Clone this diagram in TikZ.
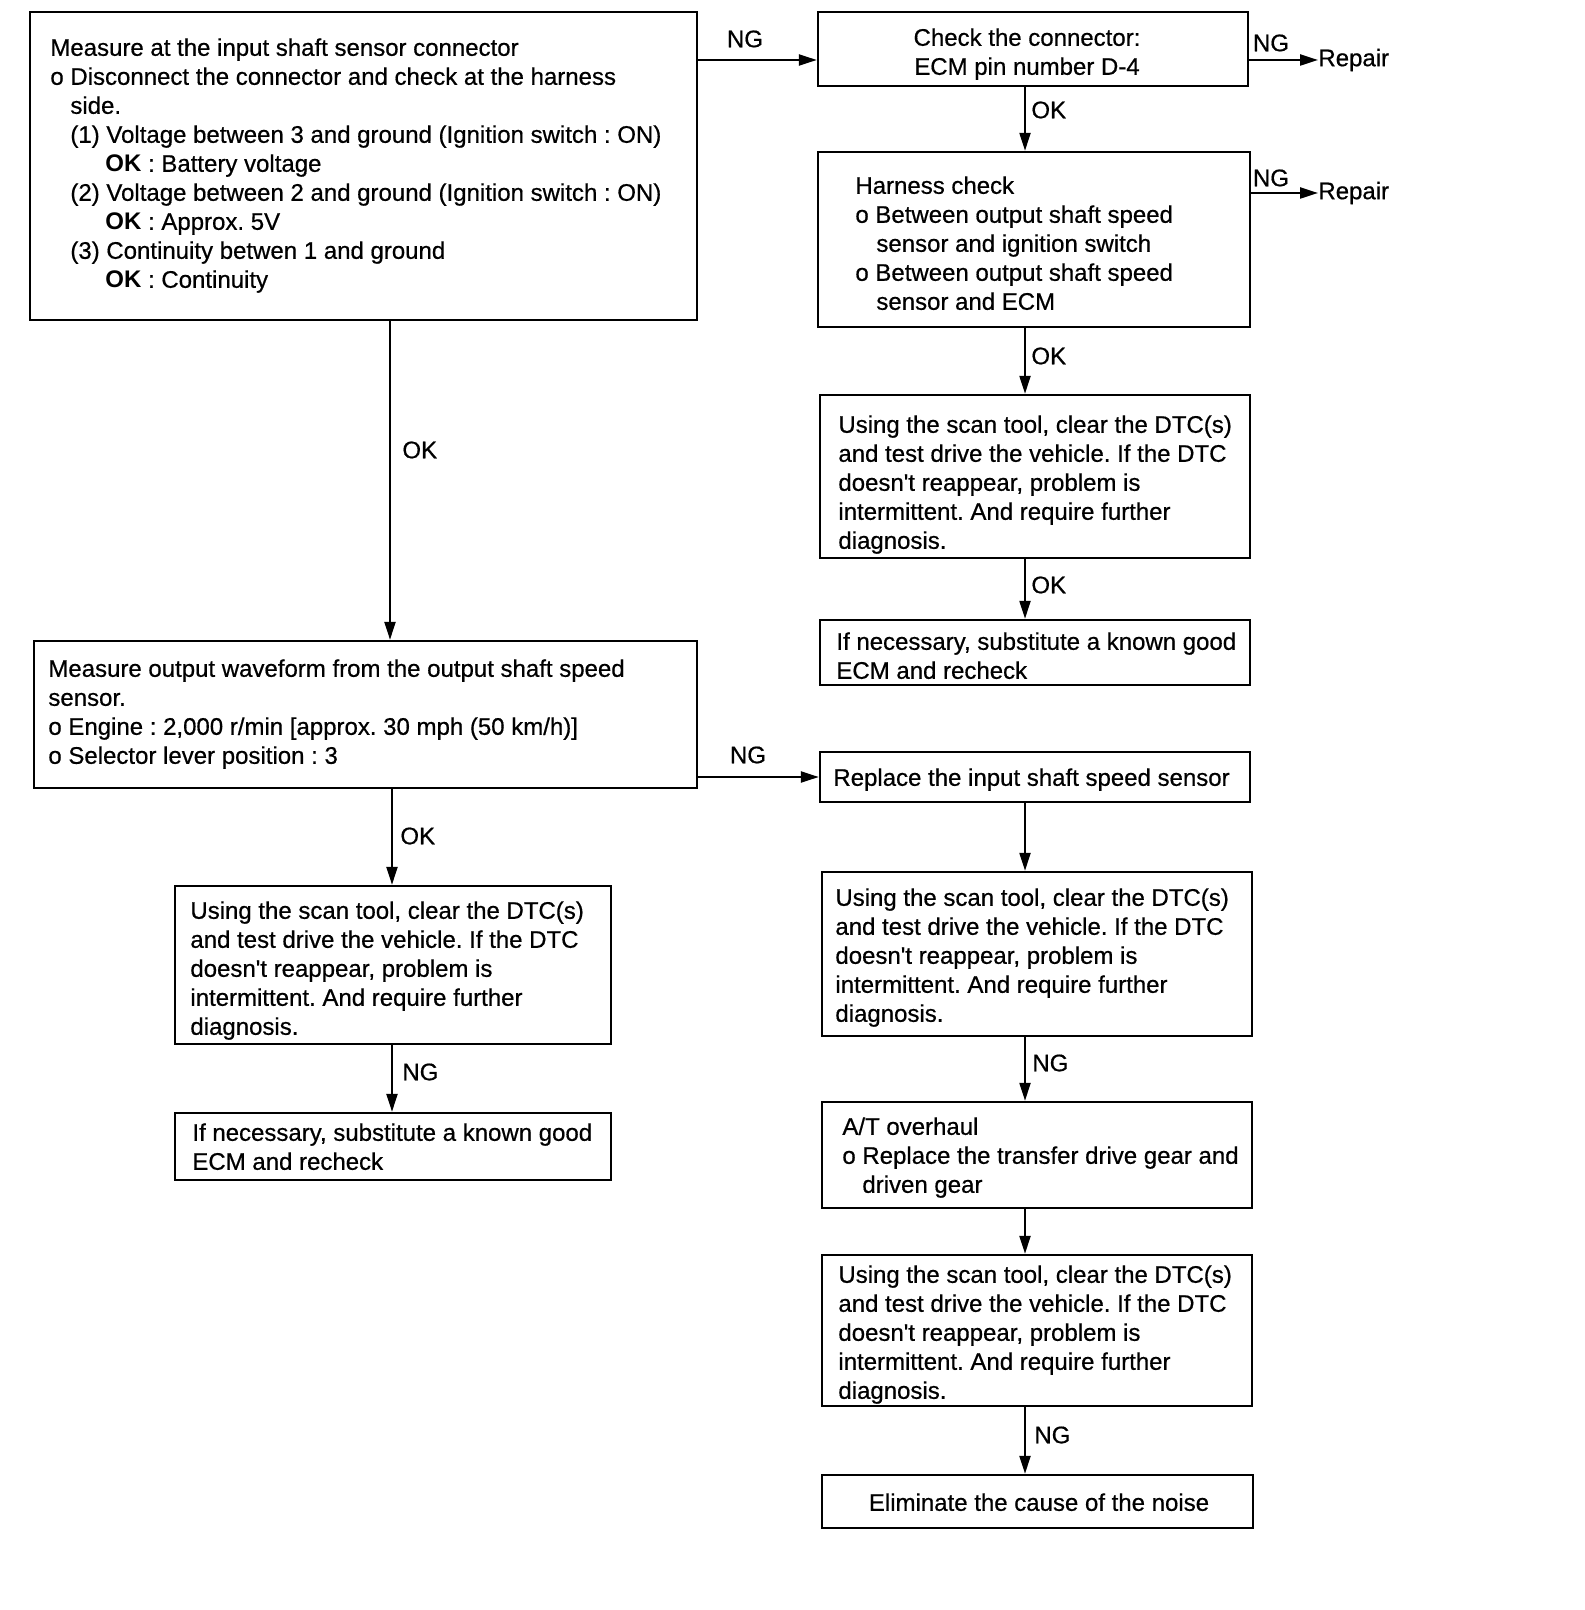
\documentclass[tikz,border=0pt]{standalone}
\usepackage{fontspec}
\setmainfont{Liberation Sans}[UprightFeatures={FakeBold=0.6}]
\usetikzlibrary{arrows.meta}
\frenchspacing
\newcommand{\apos}{\textquotesingle}
\begin{document}
\begin{tikzpicture}[x=0.5pt,y=-0.5pt,
  box/.style={draw, line width=1.2pt, inner sep=0pt, rectangle},
  txt/.style={inner sep=0pt, anchor=north west, align=left, font=\fontsize{12pt}{14.5pt}\selectfont},
  ctxt/.style={inner sep=0pt, anchor=north, align=center, font=\fontsize{12pt}{14.5pt}\selectfont},
  lbl/.style={inner sep=0pt, font=\fontsize{12pt}{14pt}\selectfont},
  arr/.style={line width=1.1pt, -{Triangle[length=9pt,width=5.5pt]}},
]
\useasboundingbox (0,0) rectangle (1584,1610);
% boxes
\node[box, minimum width=333.5pt, minimum height=154pt] (A) at (363.5,166) {};
\node[box, minimum width=215pt, minimum height=37pt] (B) at (1033,49) {};
\node[box, minimum width=216pt, minimum height=87.5pt] (C) at (1034,239.5) {};
\node[box, minimum width=215pt, minimum height=81.5pt] (D) at (1035,476.5) {};
\node[box, minimum width=215pt, minimum height=32.5pt] (E) at (1035,652.5) {};
\node[box, minimum width=331.5pt, minimum height=73.5pt] (F) at (365.5,714.5) {};
\node[box, minimum width=215pt, minimum height=25pt] (G) at (1035,777) {};
\node[box, minimum width=215pt, minimum height=82pt] (H) at (1037,954) {};
\node[box, minimum width=215pt, minimum height=53pt] (I) at (1037,1155) {};
\node[box, minimum width=215pt, minimum height=75.5pt] (J) at (1037,1330.5) {};
\node[box, minimum width=215.5pt, minimum height=26.5pt] (K) at (1037.5,1501.5) {};
\node[box, minimum width=218pt, minimum height=79pt] (L) at (393,965) {};
\node[box, minimum width=218pt, minimum height=33.5pt] (M) at (393,1146.5) {};
% texts
\node[txt] (tA) at (50,38) {Measure at the input shaft sensor connector\\
o Disconnect the connector and check at the harness\\
\hspace*{10pt}side.\\
\hspace*{10pt}(1) Voltage between 3 and ground (Ignition switch : ON)\\
\hspace*{27.5pt}\textbf{OK} : Battery voltage\\
\hspace*{10pt}(2) Voltage between 2 and ground (Ignition switch : ON)\\
\hspace*{27.5pt}\textbf{OK} : Approx. 5V\\
\hspace*{10pt}(3) Continuity betwen 1 and ground\\
\hspace*{27.5pt}\textbf{OK} : Continuity};
\node[ctxt] (tB) at (1027,28) {Check the connector:\\ECM pin number D-4};
\node[txt] (tC) at (855,176) {Harness check\\
o Between output shaft speed\\
\hspace*{10.5pt}sensor and ignition switch\\
o Between output shaft speed\\
\hspace*{10.5pt}sensor and ECM};
\node[txt] (tD) at (838,415) {Using the scan tool, clear the DTC(s)\\
and test drive the vehicle. If the DTC\\
doesn\apos t reappear, problem is\\
intermittent. And require further\\
diagnosis.};
\node[txt] (tE) at (836,632) {If necessary, substitute a known good\\ECM and recheck};
\node[txt] (tF) at (48,659) {Measure output waveform from the output shaft speed\\
sensor.\\
o Engine : 2,000 r/min [approx. 30 mph (50 km/h)]\\
o Selector lever position : 3};
\node[txt] (tG) at (833,768) {Replace the input shaft speed sensor};
\node[txt] (tH) at (835,888) {Using the scan tool, clear the DTC(s)\\
and test drive the vehicle. If the DTC\\
doesn\apos t reappear, problem is\\
intermittent. And require further\\
diagnosis.};
\node[txt] (tI) at (842,1117) {A/T overhaul\\
o Replace the transfer drive gear and\\
\hspace*{10pt}driven gear};
\node[txt] (tJ) at (838,1265) {Using the scan tool, clear the DTC(s)\\
and test drive the vehicle. If the DTC\\
doesn\apos t reappear, problem is\\
intermittent. And require further\\
diagnosis.};
\node[ctxt] (tK) at (1039,1493) {Eliminate the cause of the noise};
\node[txt] (tL) at (190,901) {Using the scan tool, clear the DTC(s)\\
and test drive the vehicle. If the DTC\\
doesn\apos t reappear, problem is\\
intermittent. And require further\\
diagnosis.};
\node[txt] (tM) at (192,1123) {If necessary, substitute a known good\\ECM and recheck};
% repair targets
\node[lbl, anchor=west] (rep1) at (1318,60) {Repair};
\node[lbl, anchor=west] (rep2) at (1318,193) {Repair};
% helper coordinates
\coordinate (xA) at (390,0);
\coordinate (xL) at (392,0);
\coordinate (xR) at (1025,0);
\coordinate (y1) at (0,60);
% connectors
\draw[arr] (A.east |- y1) -- (B.west |- y1);
\draw[arr] (B.east |- rep1.west) -- (rep1.west);
\draw[arr] (C.east |- rep2.west) -- (rep2.west);
\draw[arr] (B.south -| xR) -- (C.north -| xR);
\draw[arr] (C.south -| xR) -- (D.north -| xR);
\draw[arr] (D.south -| xR) -- (E.north -| xR);
\draw[arr] (A.south -| xA) -- (F.north -| xA);
\draw[arr] (F.east |- G.west) -- (G.west);
\draw[arr] (G.south -| xR) -- (H.north -| xR);
\draw[arr] (H.south -| xR) -- (I.north -| xR);
\draw[arr] (I.south -| xR) -- (J.north -| xR);
\draw[arr] (J.south -| xR) -- (K.north -| xR);
\draw[arr] (F.south -| xL) -- (L.north -| xL);
\draw[arr] (L.south -| xL) -- (M.north -| xL);
% labels
\node[lbl] (l1) at (745,39) {NG};
\node[lbl] (l2) at (1271,43) {NG};
\node[lbl, anchor=west] (l3) at (1031,110) {OK};
\node[lbl] (l4) at (1271,178) {NG};
\node[lbl, anchor=west] (l5) at (1031,356) {OK};
\node[lbl, anchor=west] (l6) at (1031,585) {OK};
\node[lbl, anchor=west] (l7) at (402,450) {OK};
\node[lbl] (l8) at (748,755) {NG};
\node[lbl, anchor=west] (l9) at (400,836) {OK};
\node[lbl, anchor=west] (l10) at (402,1072) {NG};
\node[lbl, anchor=west] (l11) at (1032,1063) {NG};
\node[lbl, anchor=west] (l12) at (1034,1435) {NG};
\end{tikzpicture}
\end{document}
